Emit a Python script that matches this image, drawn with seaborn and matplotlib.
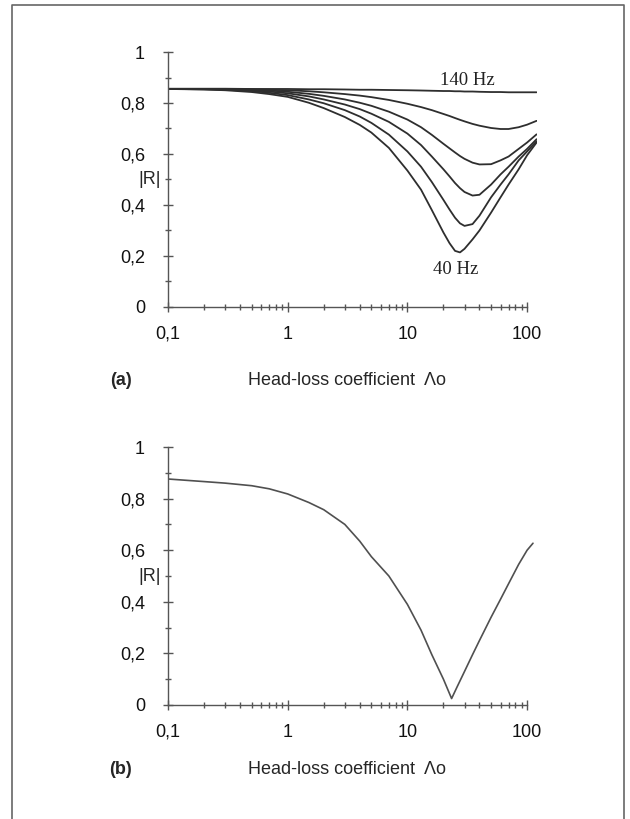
import pandas as pd
import numpy as np
import matplotlib
matplotlib.use("Agg")
import matplotlib.pyplot as plt
import seaborn as sns
from matplotlib.lines import Line2D
from matplotlib.ticker import FixedLocator, LogLocator, NullFormatter

# Dados (a): |R| em funcao do coeficiente de perda de carga
x_a = [0.1, 0.2, 0.3, 0.5, 0.7, 1, 1.5, 2, 3, 4, 5, 7, 10, 13, 16, 20, 22.5, 25, 27.5, 30, 35, 40, 50, 60, 70, 85, 100, 120]
r_40 = [.855, .853, .850, .843, .835, .824, .801, .780, .745, .714, .684, .624, .535, .460, .380, .292, .250, .220, .214, .228, .265, .300, .370, .430, .480, .540, .595, .645]
r_60 = [.855, .854, .852, .847, .840, .831, .814, .799, .772, .747, .722, .676, .610, .550, .490, .420, .382, .350, .328, .318, .325, .358, .430, .480, .520, .575, .610, .650]
r_80 = [.855, .854, .853, .850, .845, .838, .826, .814, .794, .776, .758, .726, .680, .635, .590, .540, .512, .486, .466, .451, .437, .440, .480, .520, .550, .590, .620, .658]
r_100 = [.855, .855, .854, .852, .849, .844, .836, .828, .814, .801, .789, .766, .735, .705, .675, .640, .622, .606, .592, .581, .566, .559, .560, .575, .590, .620, .645, .677]
r_120 = [.855, .855, .855, .854, .852, .850, .846, .842, .835, .829, .823, .812, .797, .784, .772, .757, .749, .741, .734, .728, .718, .711, .702, .698, .698, .705, .715, .730]
r_140 = [.856, .856, .856, .855, .855, .855, .854, .854, .853, .852, .852, .851, .850, .849, .848, .847, .847, .846, .846, .845, .845, .844, .843, .843, .842, .842, .842, .842]

# Dados do grafico (b)
x_b = [0.1, 0.2, 0.3, 0.5, 0.7, 1, 1.5, 2, 3, 4, 5, 7, 10, 13, 16, 20, 23.4, 26, 30, 35, 40, 50, 60, 70, 85, 100, 112]
r_b = [.876, .866, .860, .850, .838, .818, .785, .757, .700, .635, .575, .500, .390, .290, .195, .100, .025, .070, .130, .195, .250, .340, .410, .470, .545, .600, .627]

freqs = ["40 Hz", "60 Hz", "80 Hz", "100 Hz", "120 Hz", "140 Hz"]
series_a = [r_40, r_60, r_80, r_100, r_120, r_140]

y_ticks = [0, 0.2, 0.4, 0.6, 0.8, 1]
y_labels = ["0", "0,2", "0,4", "0,6", "0,8", "1"]
x_ticks = [0.1, 1, 10, 100]
x_labels = ["0,1", "1", "10", "100"]

sns.set_style("ticks")
plt.rcParams['font.family'] = ['Liberation Sans', 'DejaVu Sans']

df_a = pd.concat([pd.DataFrame({'x': x_a, 'R': r, 'f': f}) for f, r in zip(freqs, series_a)])
df_b = pd.DataFrame({'x': x_b, 'R': r_b})

fig = plt.figure(figsize=(6.3, 8.19), dpi=100)
ax_a = fig.add_axes([0.2667, 0.6252, 0.5850, 0.3113])
ax_b = fig.add_axes([0.2667, 0.1392, 0.5850, 0.3150])

line_col = '#2e2e2e'
axis_col = '#555555'

sns.lineplot(data=df_a, x='x', y='R', hue='f', palette=[line_col] * 6, estimator=None,
             legend=False, linewidth=1.3, ax=ax_a)
sns.lineplot(data=df_b, x='x', y='R', color='#505050', estimator=None, linewidth=1.2, ax=ax_b)

for ax in (ax_a, ax_b):
    ax.set_xscale('log')
    ax.set_xlim(0.1, 120)
    ax.set_ylim(0, 1)
    for s in ['top', 'right']:
        ax.spines[s].set_visible(False)
    ax.spines['bottom'].set_bounds(0.1, 100)
    for s in ['left', 'bottom']:
        ax.spines[s].set_color(axis_col)
        ax.spines[s].set_linewidth(1.0)
    ax.xaxis.set_major_locator(FixedLocator(x_ticks))
    ax.set_xticklabels(x_labels)
    ax.xaxis.set_minor_locator(LogLocator(base=10, subs=np.arange(2, 10), numticks=20))
    ax.xaxis.set_minor_formatter(NullFormatter())
    ax.set_yticks(y_ticks)
    ax.set_yticklabels(y_labels)
    ax.set_yticks(np.arange(0.1, 1.0, 0.2), minor=True)
    ax.tick_params(which='major', direction='inout', length=7, width=1, color=axis_col,
                   labelsize=13, labelcolor='#111111')
    ax.tick_params(which='minor', direction='inout', length=5, width=1, color=axis_col)
    ax.tick_params(axis='x', which='major', pad=10)
    ax.tick_params(axis='y', which='major', pad=13)
    ax.set_xlabel('')
    ax.set_ylabel('')
    ax.text(-0.05, 0.5, '|R|', transform=ax.transAxes, ha='center', va='center', fontsize=13)
    for t in ax.get_xticklines(minor=True) + ax.get_xticklines() + ax.get_yticklines() + ax.get_yticklines(minor=True):
        t.set_clip_on(False)

ax_a.text(31.5, 0.89, '140 Hz', family='Liberation Serif', fontsize=13.5, ha='center', va='center', color='#222222')
ax_a.text(25.5, 0.145, '40 Hz', family='Liberation Serif', fontsize=13.5, ha='center', va='center', color='#222222')

fig.text(0.192, 0.536, '(a)', fontsize=13, fontweight='bold', ha='center', va='center')
fig.text(0.551, 0.536, 'Head-loss coefficient  Λo', fontsize=13, ha='center', va='center')
fig.text(0.192, 0.060, '(b)', fontsize=13, fontweight='bold', ha='center', va='center')
fig.text(0.551, 0.060, 'Head-loss coefficient  Λo', fontsize=13, ha='center', va='center')

# moldura
fig.add_artist(Line2D([12 / 630, 12 / 630, 624 / 630, 624 / 630], [0, 1 - 5 / 819, 1 - 5 / 819, 0],
                      transform=fig.transFigure, color='#666666', linewidth=1.2))

plt.savefig('out.png', dpi=100)
plt.close()
